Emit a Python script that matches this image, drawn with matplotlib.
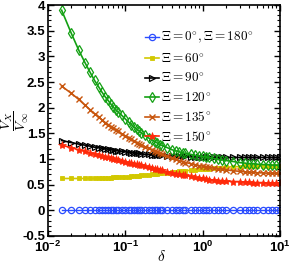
import matplotlib
matplotlib.use("Agg")
import matplotlib.pyplot as plt
from matplotlib.ticker import MultipleLocator, LogLocator, NullFormatter

plt.rcParams['mathtext.fontset'] = 'cm'

# delta values (x axis)
delta = [0.015, 0.02, 0.025, 0.03, 0.035, 0.04, 0.045, 0.05, 0.055, 0.06,
         0.065, 0.07, 0.075, 0.08, 0.09, 0.1, 0.11, 0.12, 0.13, 0.14,
         0.15, 0.16, 0.18, 0.2, 0.22, 0.24, 0.26, 0.28, 0.3, 0.35,
         0.4, 0.45, 0.5, 0.55, 0.6, 0.7, 0.8, 0.9, 1.0, 1.1,
         1.2, 1.4, 1.6, 1.8, 2.0, 2.5, 3.0, 3.5, 4.0, 4.5,
         5.0, 6.0, 7.0, 8.0, 9.0, 10.0]

# Vx / Vinf for each angle
v_0 = [0.0, 0.0, 0.0, 0.0, 0.0, 0.0, 0.0, 0.0, 0.0, 0.0,
       0.0, 0.0, 0.0, 0.0, 0.0, 0.0, 0.0, 0.0, 0.0, 0.0,
       0.0, 0.0, 0.0, 0.0, 0.0, 0.0, 0.0, 0.0, 0.0, 0.0,
       0.0, 0.0, 0.0, 0.0, 0.0, 0.0, 0.0, 0.0, 0.0, 0.0,
       0.0, 0.0, 0.0, 0.0, 0.0, 0.0, 0.0, 0.0, 0.0, 0.0,
       0.0, 0.0, 0.0, 0.0, 0.0, 0.0]
v_60 = [0.62, 0.62, 0.62, 0.62, 0.62, 0.62, 0.63, 0.63, 0.63, 0.63,
        0.63, 0.64, 0.64, 0.64, 0.64, 0.65, 0.65, 0.66, 0.66, 0.67,
        0.67, 0.68, 0.69, 0.69, 0.70, 0.71, 0.71, 0.72, 0.72, 0.73,
        0.74, 0.75, 0.76, 0.77, 0.77, 0.78, 0.79, 0.80, 0.80, 0.81,
        0.81, 0.82, 0.83, 0.83, 0.84, 0.85, 0.85, 0.86, 0.86, 0.86,
        0.87, 0.87, 0.87, 0.87, 0.87, 0.87]
v_90 = [1.36, 1.32, 1.29, 1.27, 1.25, 1.23, 1.22, 1.21, 1.20, 1.19,
        1.18, 1.17, 1.16, 1.16, 1.15, 1.14, 1.13, 1.12, 1.12, 1.11,
        1.11, 1.10, 1.09, 1.09, 1.08, 1.08, 1.07, 1.07, 1.07, 1.06,
        1.06, 1.05, 1.05, 1.05, 1.05, 1.04, 1.04, 1.04, 1.04, 1.03,
        1.03, 1.03, 1.03, 1.03, 1.03, 1.03, 1.03, 1.03, 1.03, 1.03,
        1.03, 1.03, 1.03, 1.03, 1.03, 1.03]
v_120 = [3.90, 3.45, 3.12, 2.88, 2.69, 2.53, 2.41, 2.30, 2.21, 2.14,
         2.07, 2.01, 1.96, 1.92, 1.85, 1.78, 1.72, 1.67, 1.62, 1.58,
         1.55, 1.51, 1.46, 1.41, 1.37, 1.34, 1.31, 1.28, 1.26, 1.22,
         1.18, 1.16, 1.14, 1.12, 1.11, 1.09, 1.07, 1.06, 1.05, 1.04,
         1.03, 1.01, 0.99, 0.98, 0.97, 0.95, 0.93, 0.92, 0.91, 0.91,
         0.90, 0.89, 0.89, 0.88, 0.88, 0.88]
v_135 = [2.42, 2.28, 2.16, 2.05, 1.96, 1.88, 1.82, 1.76, 1.71, 1.67,
         1.63, 1.60, 1.57, 1.54, 1.49, 1.45, 1.41, 1.38, 1.35, 1.32,
         1.30, 1.28, 1.24, 1.21, 1.18, 1.15, 1.13, 1.11, 1.09, 1.05,
         1.02, 0.99, 0.97, 0.95, 0.93, 0.91, 0.89, 0.87, 0.86, 0.85,
         0.84, 0.82, 0.81, 0.80, 0.79, 0.77, 0.76, 0.75, 0.74, 0.74,
         0.73, 0.73, 0.72, 0.72, 0.72, 0.72]
v_150 = [1.27, 1.22, 1.18, 1.15, 1.12, 1.10, 1.08, 1.06, 1.04, 1.03,
         1.01, 1.00, 0.99, 0.98, 0.96, 0.95, 0.93, 0.92, 0.91, 0.90,
         0.89, 0.88, 0.86, 0.84, 0.83, 0.81, 0.80, 0.79, 0.78, 0.75,
         0.73, 0.71, 0.70, 0.69, 0.68, 0.66, 0.64, 0.63, 0.62, 0.61,
         0.60, 0.59, 0.58, 0.58, 0.57, 0.56, 0.56, 0.55, 0.55, 0.54,
         0.54, 0.54, 0.53, 0.53, 0.53, 0.53]

labels = [r'$\Xi = 0^{\circ}, \Xi = 180^{\circ}$', r'$\Xi = 60^{\circ}$',
          r'$\Xi = 90^{\circ}$', r'$\Xi = 120^{\circ}$',
          r'$\Xi = 135^{\circ}$', r'$\Xi = 150^{\circ}$']

fig = plt.figure(figsize=(2.91, 2.66), dpi=100)
ax = fig.add_axes([0.165, 0.113, 0.797, 0.868])

ax.plot(delta, v_0, color='#2a4cff', marker='o', ms=4.5, mfc='none', mew=0.9, lw=1, label=labels[0])
ax.plot(delta, v_60, color='#d2c800', marker='s', ms=3.5, mew=0.6, lw=1.2, label=labels[1])
ax.plot(delta, v_90, color='black', marker='>', ms=5, mfc='none', mew=0.9, lw=1.2, label=labels[2])
ax.plot(delta, v_120, color='#13a013', marker='d', ms=5, mfc='none', mew=0.9, lw=1.2, label=labels[3])
ax.plot(delta, v_135, color='#c8560e', marker='x', ms=4.5, mew=1.0, lw=1.2, label=labels[4])
ax.plot(delta, v_150, color='#ff2a0a', marker='*', ms=6, mew=0.5, lw=1.2, label=labels[5])

ax.set_xscale('log')
ax.set_xlim(1e-2, 1e1)
ax.set_ylim(-0.5, 4)
ax.yaxis.set_minor_locator(MultipleLocator(0.1))
ax.xaxis.set_minor_locator(LogLocator(base=10, subs=range(2, 10)))
ax.xaxis.set_minor_formatter(NullFormatter())
ax.set_yticks([-0.5, 0, 0.5, 1, 1.5, 2, 2.5, 3, 3.5, 4])
ax.set_yticklabels(['-0.5', '0', '0.5', '1', '1.5', '2', '2.5', '3', '3.5', '4'])
ax.tick_params(which='both', direction='in', top=True, right=True)
ax.tick_params(which='major', length=4, width=1, pad=2)
ax.tick_params(axis='x', which='major', pad=3)
ax.tick_params(which='minor', length=2, width=0.8)
for lab in ax.get_xticklabels() + ax.get_yticklabels():
    lab.set_fontfamily('Liberation Sans')
    lab.set_fontweight('bold')
    lab.set_fontsize(9.5)
for s in ax.spines.values():
    s.set_linewidth(1.2)

ax.set_xlabel(r'$\delta$', fontsize=11)
ax.xaxis.set_label_coords(0.49, -0.058)
ax.set_ylabel(r'$\dfrac{V_X}{V_\infty}$', fontsize=10)
ax.yaxis.set_label_coords(-0.075, 0.5)

ax.legend(loc='upper right', bbox_to_anchor=(0.91, 0.915), frameon=False,
          fontsize=9.5, handlelength=1.0, handletextpad=0.2,
          labelspacing=0.42, borderaxespad=0.0)

fig.savefig('out.png', dpi=100)
